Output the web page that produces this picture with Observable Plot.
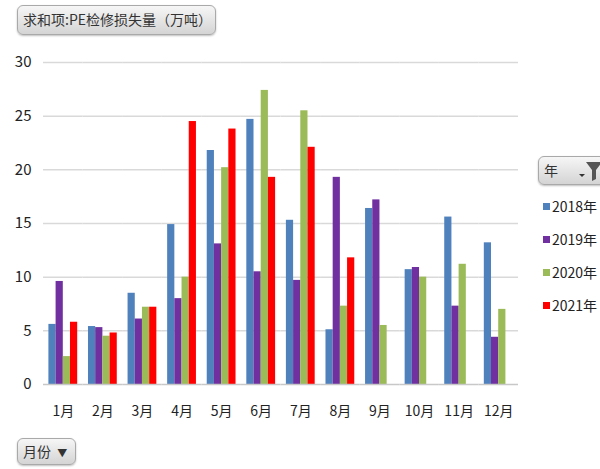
<!DOCTYPE html>
<html>
<head>
<meta charset="utf-8">
<script src="https://cdn.jsdelivr.net/npm/d3@7"></script>
<script src="https://cdn.jsdelivr.net/npm/@observablehq/plot@0.6"></script>
<style>
  html, body { margin: 0; padding: 0; background: #fff; }
  #wrap { position: relative; width: 600px; height: 469px; overflow: hidden;
          font-family: "Liberation Sans Narrow", "Noto Sans CJK SC", sans-serif; color: #222; }
  #chart { position: absolute; left: 0; top: 0; }
  .btn { position: absolute; box-sizing: border-box; border: 1px solid #a9a9a9; border-radius: 6px;
         background: linear-gradient(#f6f6f6, #d4d4d4); box-shadow: 0 1px 2px rgba(0,0,0,0.25);
         font-size: 14px; line-height: 27px; padding-left: 5px; white-space: nowrap; color: #333; }
  .item { position: absolute; left: 543px; font-size: 14px; line-height: 16px; display: flex; align-items: center; }
  .sw { width: 7px; height: 7px; margin-right: 2px; }
  #chart svg g[aria-label="y-axis tick label"] text { font-size: 15px; }
</style>
</head>
<body>
<div id="wrap">
  <div id="chart"></div>
  <div class="btn" style="left:17px;top:5px;width:199px;height:30px;">求和项:PE检修损失量（万吨）</div>
  <div class="btn" style="left:538px;top:156px;width:80px;height:29px;">年
    <svg width="30" height="22" style="position:absolute;left:36px;top:3px">
      <path d="M4 14 L10 14 L7 17 Z" fill="#333"/>
      <path d="M11 2 L27 2 L21 10 L21 19 L17 21 L17 10 Z" fill="#555"/>
    </svg>
  </div>
  <div id="legend"></div>
  <div class="btn" style="left:17px;top:438px;width:59px;height:27px;line-height:25px;">月份 <span style="font-size:10px;margin-left:3px">▼</span></div>
</div>
<script>
const months = ["1月","2月","3月","4月","5月","6月","7月","8月","9月","10月","11月","12月"];
const years = ["2018年","2019年","2020年","2021年"];
const colors = ["#4F81BD","#7030A0","#9BBB59","#FF0000"];
const v2018 = [5.6, 5.4, 8.5, 14.9, 21.8, 24.7, 15.3, 5.1, 16.4, 10.7, 15.6, 13.2];
const v2019 = [9.6, 5.3, 6.1, 8.0, 13.1, 10.5, 9.7, 19.3, 17.2, 10.9, 7.3, 4.4];
const v2020 = [2.6, 4.5, 7.2, 10.0, 20.2, 27.4, 25.5, 7.3, 5.5, 10.0, 11.2, 7.0];
const v2021 = [5.8, 4.8, 7.2, 24.5, 23.8, 19.3, 22.1, 11.8, null, null, null, null];
const yTicks = [0, 5, 10, 15, 20, 25, 30];

const series = [v2018, v2019, v2020, v2021];
const rows = [];
years.forEach((yr, j) => {
  months.forEach((m, i) => {
    const v = series[j][i];
    if (v != null) rows.push({month: m, year: yr, value: v});
  });
});

// Month facets touch each other so the gridlines run unbroken;
// the gap between month groups comes from the inner x band padding.
const chart = Plot.plot({
  width: 600,
  height: 469,
  marginTop: 62,
  marginBottom: 85,
  marginLeft: 43,
  marginRight: 82,
  style: {fontFamily: "'Liberation Sans Narrow', 'Noto Sans CJK SC', sans-serif", fontSize: "14px", color: "#222", background: "transparent"},
  y: {domain: [0, 30], ticks: yTicks, label: null, tickSize: 0, tickPadding: 12},
  fx: {domain: months, padding: 0, round: false, label: null, tickSize: 0, tickPadding: 22},
  x: {domain: years, axis: null, paddingInner: 0, paddingOuter: 0.75, round: false},
  color: {domain: years, range: colors},
  marks: [
    Plot.ruleY(yTicks.filter(d => d > 0), {stroke: "#d9d9d9", strokeWidth: 1.5}),
    Plot.barY(rows, {fx: "month", x: "year", y: "value", fill: "year"}),
    Plot.ruleY([0], {stroke: "#c8c8c8", strokeWidth: 1.5})
  ]
});
document.getElementById("chart").appendChild(chart);

const legend = document.getElementById("legend");
years.forEach((yr, j) => {
  const d = document.createElement("div");
  d.className = "item";
  d.style.top = (198 + j * 33) + "px";
  d.innerHTML = `<span class="sw" style="background:${colors[j]}"></span>${yr}`;
  legend.appendChild(d);
});
</script>
</body>
</html>
